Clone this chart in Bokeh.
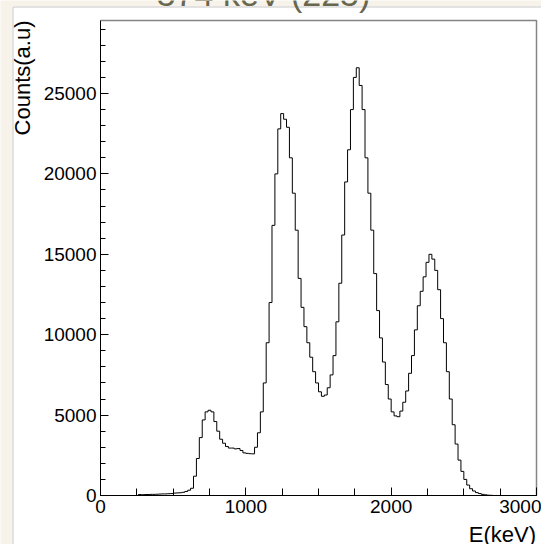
import numpy as np
from bokeh.plotting import figure
from bokeh.models import Range1d, SingleIntervalTicker, BasicTickFormatter, LinearAxis
from bokeh.core.properties import value
from bokeh.embed import file_html
from bokeh.resources import INLINE

# ---- data ----
title_text = "574 keV (225)"
x_title = "E(keV)"
y_title = "Counts(a.u)"
bin_width = 20          # keV
x_min, x_max = 0, 3000
y_top = 29540
counts = [
    0, 0, 0, 0, 0, 0, 0, 0, 0, 0,
    0, 0, 0, 60, 50, 60, 60, 70, 70, 80,
    90, 100, 100, 110, 120, 150, 160, 170, 200, 250,
    330, 450, 1200, 2300, 3600, 4700, 5200, 5300, 5200, 4600,
    4000, 3500, 3250, 3050, 2950, 2950, 2900, 2920, 2800, 2650,
    2620, 2600, 2590, 3000, 3900, 5200, 7000, 9500, 12000, 16800,
    20000, 22800, 23750, 23400, 22900, 21000, 18800, 16500, 13500, 11700,
    10500, 9500, 8600, 7700, 7000, 6450, 6170, 6250, 6700, 7500,
    8700, 10800, 13200, 16200, 19500, 21500, 24000, 26000, 26600, 25500,
    24000, 21000, 18800, 16500, 13800, 11500, 9800, 8300, 6900, 6000,
    5200, 4950, 4900, 5250, 5800, 6500, 7600, 8700, 10300, 11800,
    12700, 13600, 14500, 15000, 14700, 14000, 12800, 11000, 9500, 7700,
    6000, 4400, 3200, 2200, 1500, 1000, 650, 420, 280, 180,
    120, 70, 40, 20, 10, 0, 0, 0, 0, 0,
    0, 0, 0, 0, 0, 0, 0, 0, 0, 0,
]

edges = [x_min + i * bin_width for i in range(len(counts) + 1)]
step_y = counts + [counts[-1]]

# ---- page layout (pixels) ----
W, H = 541, 544
FL, FR, FT, FB = 100, 536, 20, 495     # histogram box on the page
x_per_px = (x_max - x_min) / (FR - FL)
y_per_px = y_top / (FB - FT)


def X(px):
    return x_min + (px - FL) * x_per_px


def Y(py):
    return (FB - py) * y_per_px


BEIGE = "#f7f3ea"
EDGE = "#c8c8c8"
FONT = "Liberation Sans"
TITLE_COLOR = "#67674f"

p = figure(width=W, height=H,
           x_range=Range1d(X(0), X(W)), y_range=Range1d(Y(H), Y(0)),
           output_backend="svg", toolbar_location=None,
           x_axis_type=None, y_axis_type=None,
           min_border=0, background_fill_color=BEIGE, border_fill_color=BEIGE)
p.grid.visible = False
p.outline_line_color = None

# white ROOT canvas with its grey left/top edges
p.quad(left=[X(12)], right=[X(W + 20)], top=[Y(6)], bottom=[Y(H + 20)],
       fill_color="white", line_color=None)
p.line(x=[X(12.5), X(12.5), X(W + 20)], y=[Y(H + 20), Y(6.5), Y(6.5)],
       line_color=EDGE, line_width=1)

# top and right edges of the histogram box
p.line(x=[x_min, x_max, x_max], y=[y_top, y_top, 0], line_color="#858585", line_width=1.5)

# histogram
p.step(x=edges, y=step_y, mode="after", line_color="black", line_width=1)

# axes placed on the box edges
xaxis = LinearAxis(fixed_location=0, bounds=(x_min, x_max),
                   ticker=SingleIntervalTicker(interval=1000, num_minor_ticks=4))
yaxis = LinearAxis(fixed_location=x_min, bounds=(0, y_top),
                   ticker=SingleIntervalTicker(interval=5000, num_minor_ticks=5),
                   formatter=BasicTickFormatter(use_scientific=False))
for ax, minor in ((xaxis, 7), (yaxis, 5)):
    ax.major_tick_in = 8
    ax.major_tick_out = 0
    ax.minor_tick_in = minor
    ax.minor_tick_out = 0
    ax.axis_line_color = "black"
    ax.major_tick_line_color = "black"
    ax.minor_tick_line_color = "black"
    ax.major_label_text_font = FONT
    ax.major_label_text_font_size = "19px"
    ax.major_label_text_color = "black"
    ax.major_label_standoff = 4
p.add_layout(xaxis, "below")
p.add_layout(yaxis, "left")

# titles
p.text(x=[X(263)], y=[Y(-6.5)], text=[title_text], text_align="center",
       text_baseline="alphabetic", text_font=value(FONT),
       text_font_size="34px", text_color=TITLE_COLOR)
p.text(x=[X(22.3)], y=[Y(20)], text=[y_title], angle=np.pi / 2, text_align="right",
       text_baseline="alphabetic", text_font=value(FONT),
       text_font_size="22px", text_color="black")
p.text(x=[X(535.5)], y=[Y(533.6)], text=[x_title], text_align="right",
       text_baseline="alphabetic", text_font=value(FONT),
       text_font_size="22px", text_color="black")

open("out.html", "w").write(file_html(p, INLINE))
